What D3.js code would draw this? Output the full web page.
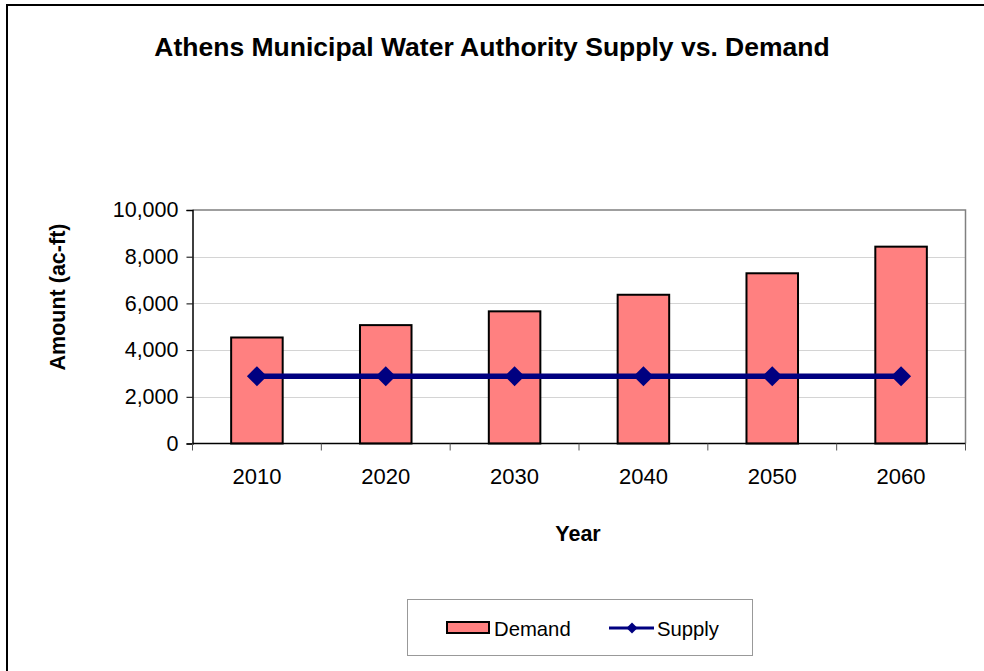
<!DOCTYPE html>
<html><head><meta charset="utf-8">
<script src="https://cdn.jsdelivr.net/npm/d3@7"></script>
<style>body{margin:0;background:#fff}svg{display:block}text{font-family:"Liberation Sans",Arial,sans-serif}</style>
</head><body><svg id="c" width="984" height="671"></svg>
<script>
const years = ["2010","2020","2030","2040","2050","2060"];
const demand = [4540, 5070, 5660, 6370, 7290, 8430];
const supply = [2885, 2885, 2885, 2885, 2885, 2885];
const yTicks = [0, 2000, 4000, 6000, 8000, 10000];
const titleText = "Athens Municipal Water Authority Supply vs. Demand";

const svg = d3.select("#c");
const L = 192.5, R = 965.5, T = 210, B = 443.5;

svg.append("rect").attr("x",7).attr("y",5).attr("width",1000).attr("height",700)
  .attr("fill","#fff").attr("stroke","#000").attr("stroke-width",2);

const x = d3.scaleBand().domain(years).range([L,R]).paddingInner(0.6).paddingOuter(0.3);
const y = d3.scaleLinear().domain([0,10000]).range([B,T]);

// gridlines
svg.append("g").selectAll("line").data(yTicks.slice(1,-1)).join("line")
  .attr("x1",L).attr("x2",R).attr("y1",d=>Math.round(y(d))+0.5).attr("y2",d=>Math.round(y(d))+0.5)
  .attr("stroke","#d4d4d4").attr("stroke-width",1);
// plot border top/right
svg.append("path").attr("d",`M${L},${T}H${R}V${B}`).attr("fill","none").attr("stroke","#808080").attr("stroke-width",1.5);

// bars
svg.append("g").selectAll("rect").data(years).join("rect")
  .attr("x",d=>x(d)).attr("width",x.bandwidth())
  .attr("y",(d,i)=>y(demand[i])).attr("height",(d,i)=>B-y(demand[i]))
  .attr("fill","#FF8080").attr("stroke","#000").attr("stroke-width",2);

// axes
const yAxis = d3.axisLeft(y).tickValues(yTicks).tickSize(6).tickPadding(8).tickFormat(d3.format(","));
const gy = svg.append("g").attr("transform",`translate(${L},0)`).call(yAxis);
gy.select(".domain").attr("stroke","#000").attr("stroke-width",1.5);
gy.selectAll(".tick line").attr("stroke","#000");
gy.selectAll("text").attr("font-size",21.5).attr("fill","#000").attr("font-family","Liberation Sans, Arial, sans-serif");

const step = x.step();
const bounds = d3.range(years.length+1).map(i => L + i*step);
const gx = svg.append("g");
gx.append("line").attr("x1",L).attr("x2",R).attr("y1",B).attr("y2",B).attr("stroke","#000").attr("stroke-width",1.5);
gx.selectAll("line.t").data(bounds).join("line").attr("class","t")
  .attr("x1",d=>d).attr("x2",d=>d).attr("y1",B).attr("y2",B+7).attr("stroke","#555");
gx.selectAll("text").data(years).join("text")
  .attr("x",d=>x(d)+x.bandwidth()/2).attr("y",484).attr("text-anchor","middle")
  .attr("font-size",22).text(d=>d);

// supply line
const line = d3.line().x((d,i)=>x(years[i])+x.bandwidth()/2).y(d=>y(d));
svg.append("path").datum(supply).attr("d",line).attr("fill","none").attr("stroke","#000080").attr("stroke-width",5.5);
svg.append("g").selectAll("path").data(supply).join("path")
  .attr("d",d3.symbol().type(d3.symbolSquare).size(200))
  .attr("transform",(d,i)=>`translate(${x(years[i])+x.bandwidth()/2},${y(d)}) rotate(45)`)
  .attr("fill","#000080");

// titles
svg.append("text").attr("x",492).attr("y",56).attr("text-anchor","middle").attr("font-size",26.5).attr("font-weight","bold").text(titleText);
svg.append("text").attr("x",578).attr("y",541).attr("text-anchor","middle").attr("font-size",21.5).attr("font-weight","bold").text("Year");
svg.append("text").attr("transform","translate(65,297) rotate(-90)").attr("text-anchor","middle").attr("font-size",21.5).attr("font-weight","bold").text("Amount (ac-ft)");

// legend
const lg = svg.append("g");
lg.append("rect").attr("x",407.5).attr("y",599.5).attr("width",345).attr("height",56).attr("fill","#fff").attr("stroke","#999").attr("stroke-width",1);
lg.append("rect").attr("x",447).attr("y",622).attr("width",42).attr("height",11).attr("fill","#FF8080").attr("stroke","#000").attr("stroke-width",2);
lg.append("text").attr("x",494).attr("y",636).attr("font-size",20.3).text("Demand");
lg.append("line").attr("x1",609).attr("x2",654).attr("y1",628).attr("y2",628).attr("stroke","#000080").attr("stroke-width",3);
lg.append("path").attr("d",d3.symbol().type(d3.symbolSquare).size(60)).attr("transform","translate(632,628) rotate(45)").attr("fill","#000080");
lg.append("text").attr("x",657).attr("y",636).attr("font-size",20.3).text("Supply");
</script></body></html>
